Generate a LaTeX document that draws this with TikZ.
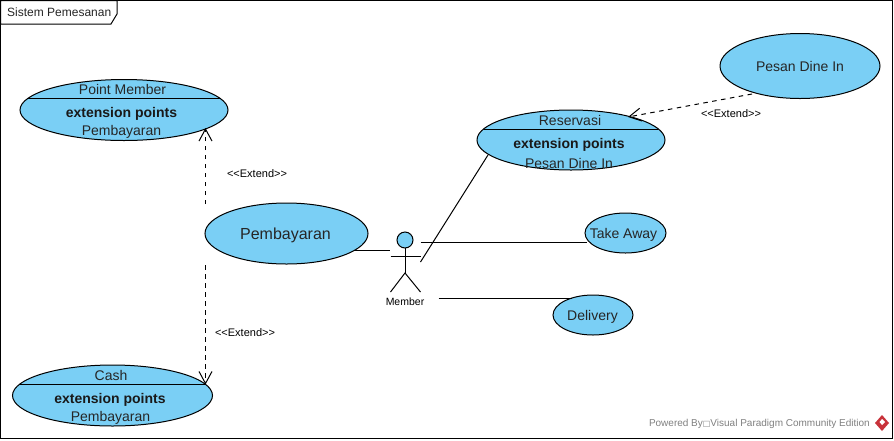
\documentclass[tikz,border=0pt]{standalone}
\usepackage{fontspec}
\setmainfont{Liberation Sans}
\newfontfamily\symfont{DejaVu Sans}
\usetikzlibrary{shapes.geometric,arrows.meta}
\definecolor{ucfill}{HTML}{7ACFF5}
\definecolor{wm}{HTML}{808080}
\definecolor{logored}{HTML}{C8323A}
\tikzset{
  usecase/.style={ellipse,draw=black,fill=ucfill,line width=1pt,inner sep=0pt,outer sep=0pt},
  ucname/.style={inner sep=0pt,font=\fontsize{14}{14}\selectfont,text=black!85},
  bigname/.style={inner sep=0pt,font=\fontsize{16}{16}\selectfont,text=black!85},
  ucbold/.style={inner sep=0pt,font=\fontsize{14}{14}\selectfont\bfseries,text=black!90},
  tiny/.style={inner sep=0pt,font=\fontsize{10.5}{10.5}\selectfont},
  exlabel/.style={inner sep=0pt,font=\fontsize{11}{11}\selectfont},
  assoc/.style={line width=1pt,draw=black},
  extend/.style={line width=1pt,draw=black,dash pattern=on 4.5pt off 4.5pt,-{Straight Barb[length=12pt,width=13pt,line width=1pt]}},
}
\begin{document}
\begin{tikzpicture}[x=1pt,y=-1pt]
\useasboundingbox (0,0) rectangle (894,440);
\draw[line width=1pt,fill=white] (0.5,0.5) rectangle (892.5,438.5);
\draw[line width=1pt,fill=white] (0.5,0.5) -- (117,0.5) -- (117,14) -- (111,24) -- (0.5,24) -- cycle;
\node[inner sep=0pt,anchor=west,font=\fontsize{12}{12}\selectfont,text=black!85] (frametitle) at (7,12.5) {Sistem Pemesanan};

% use cases
\node[usecase,minimum width=208pt,minimum height=61pt] (pm) at (124,110) {};
\coordinate (pmL) at (27.7,98.5);
\coordinate (pmR) at (220.3,98.5);
\draw[assoc] (pmL) -- (pmR);
\node[ucname] (pmn) at (122.5,89) {Point Member};
\node[ucbold] (pmb) at (121.5,113.5) {extension points};
\node[ucname] (pmp) at (121.5,132) {Pembayaran};

\node[usecase,minimum width=200pt,minimum height=61pt] (cash) at (112.5,395.5) {};
\coordinate (cashL) at (19.2,384.5);
\coordinate (cashR) at (205.8,384.5);
\draw[assoc] (cashL) -- (cashR);
\node[ucname] (cashn) at (111,375) {Cash};
\node[ucbold] (cashb) at (110,399.5) {extension points};
\node[ucname] (cashp) at (110.5,418) {Pembayaran};

\node[usecase,minimum width=163pt,minimum height=61pt] (pem) at (286.5,233.5) {};
\node[bigname] (pemn) at (285.5,235.5) {Pembayaran};

\node[usecase,minimum width=188pt,minimum height=60pt] (res) at (571,140) {};
\coordinate (resL) at (483.6,129.5);
\coordinate (resR) at (658.4,129.5);
\draw[assoc] (resL) -- (resR);
\node[ucname] (resn) at (570,120) {Reservasi};
\node[ucbold] (resb) at (569,144.5) {extension points};
\node[ucname] (resp) at (569,163) {Pesan Dine In};

\node[usecase,minimum width=160pt,minimum height=65pt] (dine) at (800,66) {};
\node[ucname] (dinen) at (800,66) {Pesan Dine In};

\node[usecase,minimum width=81pt,minimum height=40pt] (take) at (625.5,233) {};
\node[ucname] (taken) at (623.5,234.5) {Take Away};

\node[usecase,minimum width=80pt,minimum height=40pt] (del) at (593,315) {};
\node[ucname] (deln) at (592.5,316.5) {Delivery};

% actor
\node[circle,draw=black,fill=ucfill,line width=1pt,minimum size=16pt,inner sep=0pt,outer sep=0pt] (head) at (405,240) {};
\coordinate (hip) at (405,273);
\coordinate (armL) at (390.5,256);
\coordinate (armR) at (420.5,256);
\coordinate (legL) at (390.5,292);
\coordinate (legR) at (420.5,292);
\draw[assoc] (head.south) -- (hip);
\draw[assoc] (armL) -- (armR);
\draw[assoc] (legL) -- (hip) -- (legR);
\node[tiny] (member) at (405,301.5) {Member};

% associations
\coordinate (aPem) at (390,250.5);
\coordinate (aRes) at (420.5,262);
\coordinate (aTake) at (420.5,242.5);
\coordinate (aDel) at (438.5,298.5);
\coordinate (tTake) at (587,242.5);
\coordinate (tDel) at (572,298.5);
\coordinate (tRes) at (488,155);
\coordinate (tPem) at (354,250.5);
\draw[assoc] (tPem) -- (aPem);
\draw[assoc] (aRes) -- (tRes);
\draw[assoc] (aTake) -- (tTake);
\draw[assoc] (aDel) -- (tDel);

% extends
\coordinate (e1s) at (205.5,204);
\coordinate (e1t) at (205.5,128);
\coordinate (e2s) at (205.5,265);
\coordinate (e2t) at (205.5,384.5);
\coordinate (e3s) at (752,94);
\coordinate (e3t) at (628,117);
\draw[extend] (e1s) -- (e1t);
\draw[extend] (e2s) -- (e2t);
\draw[extend] (e3s) -- (e3t);
\node[exlabel] (x1) at (257,173.5) {<{}<Extend>{}>};
\node[exlabel] (x2) at (245,332.5) {<{}<Extend>{}>};
\node[exlabel] (x3) at (731,114) {<{}<Extend>{}>};

% watermark
\node[inner sep=0pt,anchor=east,font=\fontsize{10}{10}\selectfont,text=wm] (wmark) at (870,423.5) {Powered By{\symfont\fontsize{8}{8}\selectfont □}Visual Paradigm Community Edition};
\fill[logored] (882,415) -- (889,423) -- (882,431) -- (875,423) -- cycle;
\fill[white] (882,419) -- (885,422) -- (882,425) -- (879.5,422) -- cycle;
\end{tikzpicture}
\end{document}
